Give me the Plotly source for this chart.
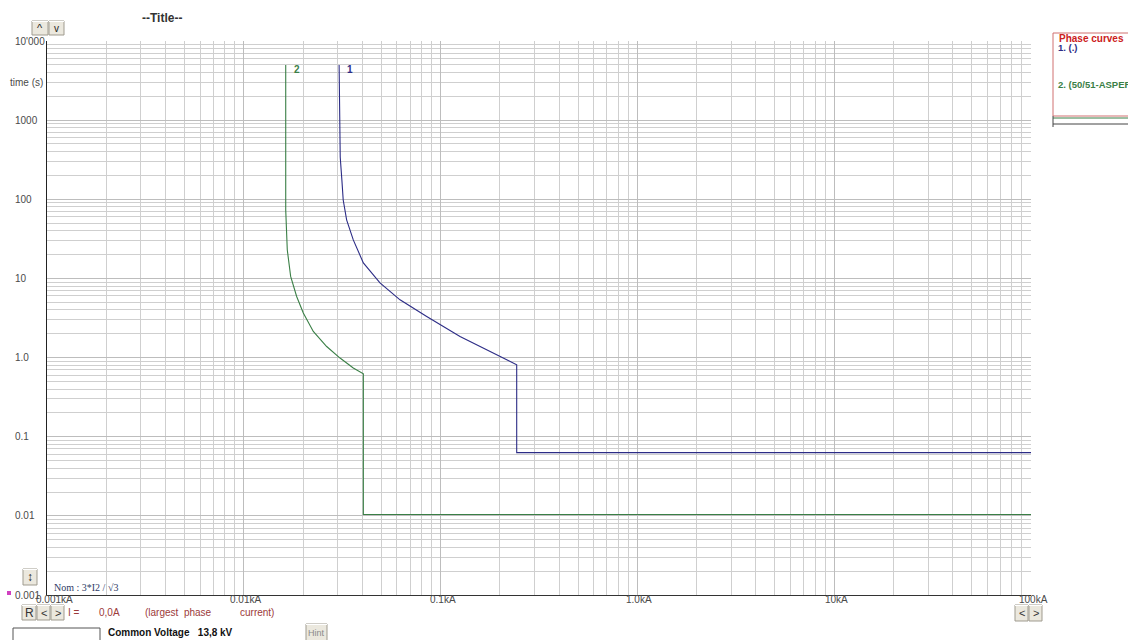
import numpy as np
import plotly.graph_objects as go

# ---------------- data ----------------
curve1_name = "1"
curve1_current_kA = [0.0305, 0.0308, 0.0309, 0.0315, 0.0320, 0.0333, 0.0360, 0.0405,
                     0.0492, 0.0622, 0.0850, 0.1255, 0.1846, 0.2436, 0.2436, 100]
curve1_time_s = [4980, 1000, 343, 176, 98, 55, 30.7, 15.7,
                 8.8, 5.37, 3.30, 1.85, 1.15, 0.81, 0.063, 0.063]

curve2_name = "2"
curve2_current_kA = [0.01633, 0.01633, 0.01663, 0.01730, 0.01856, 0.02006, 0.02255,
                     0.02637, 0.03083, 0.0360, 0.0405, 0.0405, 100]
curve2_time_s = [4980, 73.5, 23.0, 10.6, 5.91, 3.65, 2.14,
                 1.38, 0.986, 0.737, 0.624, 0.0104, 0.0104]

x_tick_values = [0.001, 0.01, 0.1, 1.0, 10, 100]
x_tick_labels = ["0.001kA", "0.01kA", "0.1kA", "1.0kA", "10kA", "100kA"]
y_tick_values = [0.001, 0.01, 0.1, 1.0, 10, 100, 1000, 10000]
y_tick_labels = ["0.001", "0.01", "0.1", "1.0", "10", "100", "1000", "10'000"]

legend_title = "Phase curves"
legend_items = ["1. (.)", "2. (50/51-ASPER"]

# ---------------- layout helpers ----------------
W_FIG, H_FIG = 1128, 640
L, R, T, B = 47, 1031, 41, 595
PW, PH = R - L, B - T


def px(x):
    return (x - L) / PW


def py(y):
    return (B - y) / PH


BLUE = "#2c2c86"
GREEN = "#3a7f46"
FONT = "Liberation Sans, Arial, sans-serif"

fig = go.Figure()
fig.add_trace(go.Scatter(x=curve1_current_kA, y=curve1_time_s, mode="lines",
                         line=dict(color=BLUE, width=1.1), name=curve1_name,
                         hoverinfo="skip"))
fig.add_trace(go.Scatter(x=curve2_current_kA, y=curve2_time_s, mode="lines",
                         line=dict(color=GREEN, width=1.1), name=curve2_name,
                         hoverinfo="skip"))

shapes = []
annotations = []


def text(x, y, s, size=10, color="#444", bold=False, xanchor="left", family=FONT):
    annotations.append(dict(xref="paper", yref="paper", x=px(x), y=py(y),
                            text=("<b>%s</b>" % s) if bold else s, showarrow=False,
                            xanchor=xanchor, yanchor="middle",
                            font=dict(size=size, color=color, family=family)))


def rect(x0, y0, x1, y1, fill="#ebe8de", line="#9f9b8f", width=1):
    shapes.append(dict(type="rect", xref="paper", yref="paper",
                       x0=px(x0), x1=px(x1), y0=py(y1), y1=py(y0),
                       fillcolor=fill, line=dict(color=line, width=width), layer="above"))


def hline(x0, x1, y, color, width=1):
    shapes.append(dict(type="line", xref="paper", yref="paper",
                       x0=px(x0), x1=px(x1), y0=py(y), y1=py(y),
                       line=dict(color=color, width=width), layer="above"))


def vline(x, y0, y1, color, width=1):
    shapes.append(dict(type="line", xref="paper", yref="paper",
                       x0=px(x), x1=px(x), y0=py(y0), y1=py(y1),
                       line=dict(color=color, width=width), layer="above"))


def button(x0, y0, x1, y1, s, size=10, color="#222"):
    rect(x0, y0, x1, y1)
    hline(x0, x1, y0 + 0.5, "#ffffff")
    text((x0 + x1) / 2, (y0 + y1) / 2, s, size=size, color=color, xanchor="center")


# y tick labels (left aligned, as in the reference)
for v, lab in zip(y_tick_values, y_tick_labels):
    annotations.append(dict(xref="paper", yref="y", x=px(13), y=np.log10(v), text=lab,
                            showarrow=False, xanchor="left", yanchor="middle",
                            font=dict(size=10, color="#4a4a4a", family=FONT)))
# x tick labels
for v, lab in zip(x_tick_values, x_tick_labels):
    annotations.append(dict(xref="x", yref="paper", x=np.log10(v), y=0, yshift=-4,
                            text=lab, showarrow=False, xanchor="center", yanchor="middle",
                            xshift=7 if v == x_tick_values[0] else 2,
                            font=dict(size=10, color="#4a4a4a", family=FONT)))
# magenta marker next to 0.001
rect(7, 591, 11, 595, fill="#d040c0", line="#d040c0", width=0)

# curve number labels at the top of each curve
for xs, ys, nm, col in [(curve1_current_kA, curve1_time_s, curve1_name, BLUE),
                        (curve2_current_kA, curve2_time_s, curve2_name, GREEN)]:
    annotations.append(dict(xref="x", yref="y", x=np.log10(xs[0]), y=np.log10(ys[0]),
                            text="<b>%s</b>" % nm, showarrow=False, xanchor="left",
                            yanchor="middle", xshift=6, yshift=-5,
                            font=dict(size=10, color=col, family=FONT)))

# title & axis label
text(162, 18, "--Title--", size=12, color="#333", bold=True, xanchor="center")
text(8, 83, "time (s)", size=10, color="#4a4a4a")

# buttons
button(32, 21, 48, 35, "^", size=11)
button(49, 21, 64, 35, "v", size=10)
button(23, 569, 37, 585, "↕", size=12)
button(22, 605, 36, 620, "R", size=12, color="#333")
button(37, 605, 50, 620, "&lt;", size=11, color="#333")
button(51, 605, 64, 620, "&gt;", size=11, color="#333")
button(1015, 605, 1028, 621, "&lt;", size=11, color="#333")
button(1029, 605, 1042, 621, "&gt;", size=11, color="#333")
button(306, 624, 327, 642, "Hint", size=9, color="#8a8a8a")

# note
text(52, 587, "Nom : 3*I2 / √3", size=10, color="#2f3b66",
     family="Liberation Serif, Times New Roman, serif")

# bottom status row
RED = "#9c3a3a"
text(66, 612, "I =", color=RED)
text(97, 612, "0,0A", color=RED)
text(143, 612, "(largest&nbsp;&nbsp;phase", color=RED)
text(238, 612, "current)", color=RED)

rect(13, 628, 100, 645, fill="#ffffff", line="#555555")
text(106, 632, "Common Voltage&nbsp;&nbsp;&nbsp;13,8 kV", size=10, color="#111", bold=True)

# legend box on the right
rect(1053, 33, 1140, 116, fill="#ffffff", line="#d07070")
text(1057, 39, legend_title, size=10, color="#cc2020", bold=True)
text(1056, 48, legend_items[0], size=9.5, color=BLUE, bold=True)
text(1056, 84, legend_items[1], size=9.5, color=GREEN, bold=True)
hline(1053, 1128, 118, GREEN)
hline(1053, 1128, 124, "#444444")
vline(1053, 116, 127, "#444444")

grid_major = "#bdbdbd"
grid_minor = "#cfcfcf"
fig.update_layout(
    width=W_FIG, height=H_FIG,
    margin=dict(l=L, r=W_FIG - R, t=T, b=H_FIG - B),
    paper_bgcolor="white", plot_bgcolor="white",
    showlegend=False,
    xaxis=dict(type="log", range=[-3, 2], showticklabels=False, ticks="",
               tickvals=x_tick_values, showgrid=True, gridcolor=grid_major, gridwidth=1,
               minor=dict(dtick="D1", showgrid=True, gridcolor=grid_minor, gridwidth=1, ticks=""),
               showline=True, linecolor="#333333", linewidth=1, mirror=False, zeroline=False),
    yaxis=dict(type="log", range=[-3, 4], showticklabels=False, ticks="",
               tickvals=y_tick_values, showgrid=True, gridcolor=grid_major, gridwidth=1,
               minor=dict(dtick="D1", showgrid=True, gridcolor=grid_minor, gridwidth=1, ticks=""),
               showline=True, linecolor="#222222", linewidth=1, mirror=False, zeroline=False),
    shapes=shapes,
    annotations=annotations,
)

fig.write_html("out.html", config={"displayModeBar": False},
               post_script="document.body.style.margin='0';document.body.style.overflow='hidden';")
